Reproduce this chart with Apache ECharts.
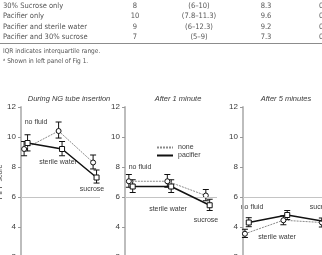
<!DOCTYPE html>
<html>
<head>
<meta charset="utf-8">
<script src="https://cdn.jsdelivr.net/npm/echarts@6/dist/echarts.min.js"></script>
<style>
  html, body { margin: 0; padding: 0; background: #fff; }
  #main { width: 322px; height: 255px; }
</style>
</head>
<body>
<div id="main"></div>
<script>
// table fragment
var tableNames = ["30% Sucrose only", "Pacifier only", "Pacifier and sterile water", "Pacifier and 30% sucrose"];
var tableMedian = ["8", "10", "9", "7"];
var tableIQR = ["(6\u201310)", "(7.8\u201311.3)", "(6\u201312.3)", "(5\u20139)"];
var tableMean = ["8.3", "9.6", "9.2", "7.3"];
var tableLast = ["0", "0", "0", "0"];
var footnotes = ["IQR indicates interquartile range.", "\u1d43 Shown in left panel of Fig 1."];

// panels
var panelTitles = ["During NG tube insertion", "After 1 minute", "After 5 minutes"];
var fluids = ["no fluid", "sterile water", "sucrose"];
var groups = ["none", "pacifier"];

// PIPP score means, [panel][fluid]
var noneMean = [[9.2, 10.4, 8.3], [7.05, 7.05, 6.1], [3.55, 4.45, 4.3]];
var noneLow  = [[8.75, 9.93, 7.87], [6.65, 6.65, 5.75], [3.3, 4.15, 4.0]];
var noneHigh = [[9.7, 11.0, 8.8], [7.5, 7.5, 6.5], [3.85, 4.75, 4.6]];
var pacMean = [[9.6, 9.2, 7.3], [6.7, 6.7, 5.45], [4.3, 4.8, 4.35]];
var pacLow  = [[9.07, 8.75, 6.93], [6.3, 6.3, 5.1], [4.02, 4.5, 4.05]];
var pacHigh = [[10.15, 9.7, 7.8], [7.15, 7.15, 5.85], [4.62, 5.1, 4.65]];
var refLine = 6;

var chart = echarts.init(document.getElementById("main"));

var txt = "#3a3a3a";
var fnt = "Liberation Sans, Arial, sans-serif";
var narrow = "'Liberation Sans Narrow', 'DejaVu Sans Condensed', Arial, sans-serif";

// layout of panels
var grids = [
  {left: 21, top: 107, width: 79, height: 150, xmin: 0.91, xmax: 3.2},
  {left: 125, top: 107, width: 92, height: 150, xmin: 0.9, xmax: 3.29},
  {left: 243, top: 107, width: 100, height: 150, xmin: 0.95, xmax: 3.55}
];
var titleX = [64, 173, 281];
var labelPos = [
  [[36, 122], [58, 162], [92, 189]],
  [[140, 167], [168, 209], [206, 220]],
  [[252, 207], [277, 237], [322, 207]]
];
var dodge = 0.1;

function renderErr(params, api) {
  var x = api.value(0);
  var p1 = api.coord([x, api.value(2)]);
  var p2 = api.coord([x, api.value(1)]);
  var w = 3;
  var st = {stroke: "#111", lineWidth: 1};
  return {
    type: "group",
    children: [
      {type: "line", shape: {x1: p1[0], y1: p1[1], x2: p2[0], y2: p2[1]}, style: st},
      {type: "line", shape: {x1: p1[0] - w, y1: p1[1], x2: p1[0] + w, y2: p1[1]}, style: st},
      {type: "line", shape: {x1: p2[0] - w, y1: p2[1], x2: p2[0] + w, y2: p2[1]}, style: st}
    ]
  };
}

var gridOpt = [], xAxes = [], yAxes = [], series = [], titles = [], graphics = [];

grids.forEach(function (g, i) {
  gridOpt.push({left: g.left, top: g.top, width: g.width, height: g.height,
    containLabel: false, outerBoundsMode: "none"});
  xAxes.push({type: "value", gridIndex: i, min: g.xmin, max: g.xmax, show: false});
  yAxes.push({
    type: "value", gridIndex: i, min: 2, max: 12, interval: 2,
    name: i === 0 ? "PIPP score" : "",
    nameLocation: "middle", nameGap: 12,
    nameTextStyle: {fontSize: 7, color: txt, fontFamily: fnt},
    axisLine: {show: true, lineStyle: {color: "#bdbdbd", width: 2}},
    axisTick: {show: true, length: 3, lineStyle: {color: "#999"}},
    axisLabel: {fontSize: 8, color: txt, margin: 5, fontFamily: fnt},
    splitLine: {show: false}
  });
  titles.push({
    text: panelTitles[i], left: titleX[i], top: 90, textAlign: "center",
    textStyle: {fontSize: 7.5, fontStyle: "italic", fontWeight: "normal", color: txt, fontFamily: fnt}
  });

  var noneData = [], pacData = [], noneErr = [], pacErr = [];
  for (var k = 0; k < fluids.length; k++) {
    noneData.push([k + 1, noneMean[i][k]]);
    pacData.push([k + 1 + dodge, pacMean[i][k]]);
    noneErr.push([k + 1, noneLow[i][k], noneHigh[i][k]]);
    pacErr.push([k + 1 + dodge, pacLow[i][k], pacHigh[i][k]]);
    graphics.push({
      type: "text", x: labelPos[i][k][0], y: labelPos[i][k][1],
      style: {text: fluids[k], fill: txt, font: "7px " + fnt, align: "center", verticalAlign: "middle"}
    });
  }

  series.push({
    type: "custom", xAxisIndex: i, yAxisIndex: i, renderItem: renderErr,
    data: noneErr, z: 2, clip: false, silent: true
  });
  series.push({
    type: "custom", xAxisIndex: i, yAxisIndex: i, renderItem: renderErr,
    data: pacErr, z: 2, clip: false, silent: true
  });
  series.push({
    name: "none", type: "line", xAxisIndex: i, yAxisIndex: i, data: noneData,
    symbol: "circle", symbolSize: 5, z: 4, clip: false,
    lineStyle: {color: "#8a8a8a", width: 1, type: [2, 1]},
    itemStyle: {color: "#fff", borderColor: "#111", borderWidth: 1},
    markLine: {
      silent: true, symbol: "none", label: {show: false},
      lineStyle: {color: "#c4c4c4", width: 1, type: "solid"},
      data: [{yAxis: refLine}]
    }
  });
  series.push({
    name: "pacifier", type: "line", xAxisIndex: i, yAxisIndex: i, data: pacData,
    symbol: "rect", symbolSize: 5, z: 5, clip: false,
    lineStyle: {color: "#111", width: 1.5},
    itemStyle: {color: "#fff", borderColor: "#111", borderWidth: 1}
  });
});

// table text
var rowY = [6, 16.5, 27, 37.5];
var colX = [135, 199, 266];
tableNames.forEach(function (name, r) {
  var st = {fill: "#555", font: "7.5px " + narrow, verticalAlign: "middle"};
  graphics.push({type: "text", x: 3, y: rowY[r], style: Object.assign({text: name, align: "left"}, st)});
  graphics.push({type: "text", x: colX[0], y: rowY[r], style: Object.assign({text: tableMedian[r], align: "center"}, st)});
  graphics.push({type: "text", x: colX[1], y: rowY[r], style: Object.assign({text: tableIQR[r], align: "center"}, st)});
  graphics.push({type: "text", x: colX[2], y: rowY[r], style: Object.assign({text: tableMean[r], align: "center"}, st)});
  graphics.push({type: "text", x: 319, y: rowY[r], style: Object.assign({text: tableLast[r], align: "left"}, st)});
});
graphics.push({type: "rect", shape: {x: 0, y: 43, width: 322, height: 1}, style: {fill: "#8c8c8c"}});
graphics.push({type: "text", x: 3, y: 51.5, style: {text: footnotes[0], fill: "#555", font: "6.5px " + narrow, verticalAlign: "middle"}});
graphics.push({type: "text", x: 3, y: 61, style: {text: footnotes[1], fill: "#555", font: "6.5px " + narrow, verticalAlign: "middle"}});

chart.setOption({
  animation: false,
  title: titles,
  grid: gridOpt,
  xAxis: xAxes,
  yAxis: yAxes,
  legend: {
    data: groups, orient: "vertical", left: 151, top: 139,
    itemWidth: 16, itemHeight: 1, itemGap: 1,
    itemStyle: {opacity: 0, borderWidth: 0},
    textStyle: {fontSize: 7, color: txt, fontFamily: fnt}
  },
  series: series,
  graphic: graphics
});
</script>
</body>
</html>
